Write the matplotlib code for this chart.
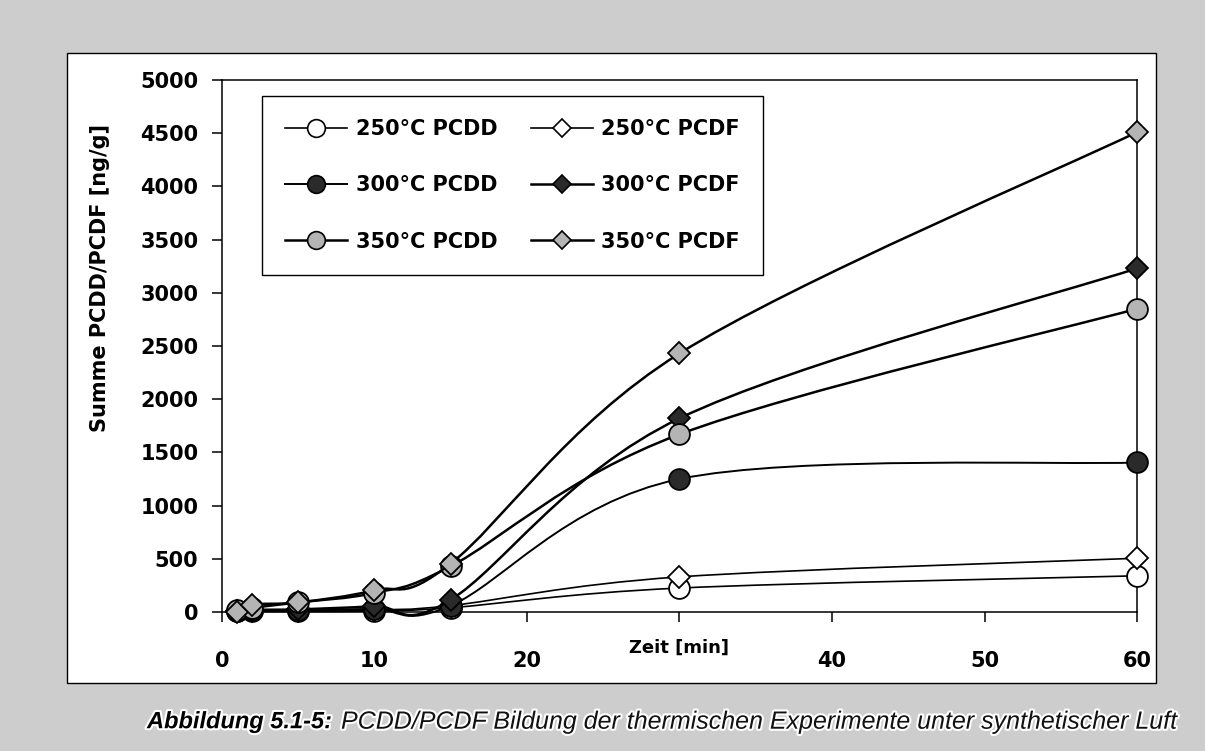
import matplotlib
matplotlib.use("Agg")
import matplotlib.pyplot as plt
from matplotlib.path import Path
from matplotlib.patches import PathPatch, Rectangle
from matplotlib.lines import Line2D
import matplotlib.patheffects as pe

# Zeitpunkte [min] und Summenwerte [ng/g]
zeit = [1, 2, 5, 10, 15, 30, 60]
pcdd_250 = [5, 5, 5, 10, 40, 225, 340]
pcdf_250 = [5, 10, 10, 20, 60, 330, 505]
pcdd_300 = [10, 15, 20, 30, 60, 1250, 1405]
pcdf_300 = [10, 20, 25, 55, 115, 1820, 3230]
pcdd_350 = [15, 40, 90, 180, 430, 1670, 2850]
pcdf_350 = [0, 70, 90, 205, 455, 2430, 4510]

x_ticks = [0, 10, 20, 30, 40, 50, 60]
x_ticklabels = ["0", "10", "20", "", "40", "50", "60"]
y_ticks = list(range(0, 5001, 500))

BOLD = dict(family="DejaVu Sans", fontweight="bold")


def glatte_kurve(xs, ys):
    """Bezier-Pfad durch die Messpunkte (Kontrollpunkte wie bei Excel-Glaettung)."""
    pts = list(zip(xs, ys))
    verts = [pts[0]]
    codes = [Path.MOVETO]
    n = len(pts)
    for i in range(n - 1):
        p0 = pts[i - 1] if i > 0 else pts[i]
        p1 = pts[i]
        p2 = pts[i + 1]
        p3 = pts[i + 2] if i + 2 < n else pts[i + 1]
        c1 = (p1[0] + (p2[0] - p0[0]) / 6, p1[1] + (p2[1] - p0[1]) / 6)
        c2 = (p2[0] - (p3[0] - p1[0]) / 6, p2[1] - (p3[1] - p1[1]) / 6)
        verts += [c1, c2, p2]
        codes += [Path.CURVE4] * 3
    return Path(verts, codes)


fig = plt.figure(figsize=(12.05, 7.51), dpi=100)
fig.patch.set_facecolor("#cdcdcd")

# weisser Rahmen um das Diagramm
fig.patches.append(Rectangle((0.0556, 0.0905), 0.9037, 0.8389, transform=fig.transFigure,
                             facecolor="white", edgecolor="black", linewidth=1.0, zorder=-5))

ax = fig.add_axes([0.1842, 0.1851, 0.7594, 0.7084])
ax.set_zorder(1)
ax.set_facecolor("white")

serien = [
    ("250°C PCDD", pcdd_250, "o", "white", 1.2, 15),
    ("250°C PCDF", pcdf_250, "D", "white", 1.2, 11),
    ("300°C PCDD", pcdd_300, "o", "#2a2a2a", 1.4, 15),
    ("300°C PCDF", pcdf_300, "D", "#2a2a2a", 1.8, 11),
    ("350°C PCDD", pcdd_350, "o", "#b4b4b4", 1.8, 15),
    ("350°C PCDF", pcdf_350, "D", "#b4b4b4", 1.8, 11),
]

handles = {}
for z, (name, werte, marker, farbe, lw, ms) in enumerate(serien):
    ax.add_patch(PathPatch(glatte_kurve(zeit, werte), facecolor="none", edgecolor="black",
                           linewidth=lw, zorder=2 + 2 * z, clip_on=False))
    ax.plot(zeit, werte, linestyle="none", marker=marker, markersize=ms,
            markerfacecolor=farbe, markeredgecolor="black", markeredgewidth=1.3,
            zorder=3 + 2 * z, clip_on=False)
    handles[name] = Line2D([], [], color="black", linewidth=lw, marker=marker,
                           markersize=ms * 0.85, markerfacecolor=farbe,
                           markeredgecolor="black", markeredgewidth=1.2)

ax.set_xlim(0, 60)
ax.set_ylim(0, 5000)
ax.set_xticks(x_ticks)
ax.set_xticklabels(x_ticklabels, fontsize=15, **BOLD)
ax.set_yticks(y_ticks)
ax.set_yticklabels([str(v) for v in y_ticks], fontsize=15, **BOLD)
ax.tick_params(axis="y", direction="out", length=7, width=1.1, pad=10)
ax.tick_params(axis="x", direction="out", length=7, width=1.1, pad=21)
for s in ax.spines.values():
    s.set_linewidth(1.1)

# Achsenbeschriftungen
fig.text(0.5639, 0.137, "Zeit [min]", ha="center", va="center", fontsize=13, zorder=5, **BOLD)
fig.text(0.083, 0.63, "Summe PCDD/PCDF [ng/g]", rotation=90, ha="center", va="center",
         fontsize=15, zorder=5, **BOLD)

reihenfolge = ["250°C PCDD", "300°C PCDD", "350°C PCDD",
               "250°C PCDF", "300°C PCDF", "350°C PCDF"]
leg = ax.legend([handles[k] for k in reihenfolge], reihenfolge, ncol=2,
                loc="upper left", bbox_to_anchor=(0.0437, 0.970),
                prop=dict(family="DejaVu Sans", weight="bold", size=15),
                handlelength=3.0, handletextpad=0.4, columnspacing=1.6,
                labelspacing=1.75, borderpad=1.1, borderaxespad=0,
                fancybox=False, framealpha=1, edgecolor="black")
leg.get_frame().set_linewidth(1.0)
leg.set_zorder(20)

# Bildunterschrift
halo = [pe.withStroke(linewidth=3, foreground="white")]
cap_font = ["Liberation Sans", "DejaVu Sans"]
fig.text(0.122, 0.039, "Abbildung 5.1-5:", ha="left", va="center", fontsize=17,
         family=cap_font, fontweight="bold", fontstyle="italic", path_effects=halo)
fig.text(0.283, 0.039, "PCDD/PCDF Bildung der thermischen Experimente unter synthetischer Luft",
         ha="left", va="center", fontsize=18, family=cap_font, fontstyle="italic",
         color="#111111", path_effects=halo)

fig.savefig("out.png", dpi=100, facecolor=fig.get_facecolor())
